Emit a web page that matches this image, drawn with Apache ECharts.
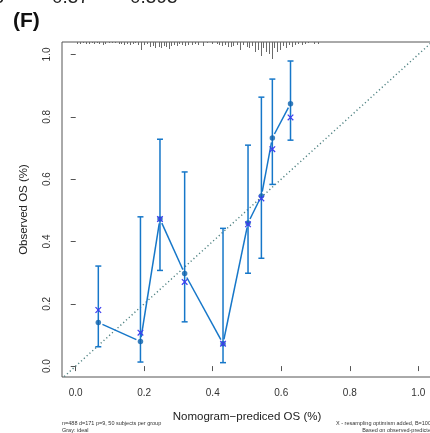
<!DOCTYPE html>
<html>
<head>
<meta charset="utf-8">
<script src="https://cdn.jsdelivr.net/npm/echarts@6/dist/echarts.min.js"></script>
<style>
  html, body { margin: 0; padding: 0; background: #fff; }
  #chart { width: 430px; height: 433px; }
</style>
</head>
<body>
<div id="chart"></div>
<script>
  // calibration groups (9 groups, 50 subjects each)
  const predicted = [0.066, 0.189, 0.246, 0.318, 0.430, 0.503, 0.542, 0.574, 0.627];
  const observed = [0.140, 0.079, 0.472, 0.297, 0.072, 0.459, 0.546, 0.732, 0.842];
  const corrected = [0.180, 0.107, 0.472, 0.270, 0.072, 0.455, 0.538, 0.696, 0.798];
  const ciLower = [0.062, 0.013, 0.307, 0.142, 0.011, 0.298, 0.346, 0.583, 0.725];
  const ciUpper = [0.321, 0.479, 0.728, 0.623, 0.442, 0.709, 0.863, 0.921, 0.979];

  const tickValues = [0, 0.2, 0.4, 0.6, 0.8, 1.0];
  const idealRange = [-0.05, 1.05];

  // distribution of predicted risk (rug at top)
  const rugPred = [0.004, 0.013, 0.021, 0.030, 0.038, 0.048, 0.054, 0.062, 0.069, 0.079,
    0.085, 0.096, 0.106, 0.116, 0.126, 0.133, 0.140, 0.150, 0.159, 0.166,
    0.174, 0.182, 0.191, 0.198, 0.208, 0.218, 0.225, 0.232, 0.242, 0.249,
    0.257, 0.264, 0.271, 0.279, 0.286, 0.296, 0.302, 0.310, 0.320, 0.328,
    0.339, 0.348, 0.358, 0.372, 0.382, 0.397, 0.412, 0.419, 0.428, 0.436,
    0.445, 0.452, 0.460, 0.470, 0.480, 0.489, 0.499, 0.507, 0.514, 0.523,
    0.531, 0.540, 0.548, 0.555, 0.564, 0.572, 0.580, 0.588, 0.596, 0.604,
    0.614, 0.623, 0.630, 0.640, 0.650, 0.660, 0.669, 0.679, 0.696, 0.708];
  const rugCount = [2, 2, 1, 2, 2, 1, 2, 1, 2, 3,
    2, 1, 1, 1, 2, 2, 3, 2, 3, 2,
    1, 3, 8, 3, 2, 5, 4, 6, 5, 6,
    4, 5, 7, 4, 3, 4, 2, 3, 4, 3,
    3, 2, 3, 4, 1, 2, 2, 3, 4, 3,
    5, 5, 4, 3, 8, 3, 5, 6, 4, 10,
    8, 14, 6, 10, 12, 17, 6, 10, 8, 4,
    6, 3, 5, 3, 2, 3, 2, 1, 2, 2];

  const BLUE = '#1677c9';
  const DOT = '#0d62ad';
  const XBLUE = '#3c3cf0';
  const AXIS = '#555';
  const FONT = 'Liberation Sans';

  const chart = echarts.init(document.getElementById('chart'), null, {renderer: 'canvas'});

  const axisCommon = {
    type: 'value',
    axisLine: {show: false},
    splitLine: {show: false},
    axisTick: {show: true, length: 5, lineStyle: {color: AXIS, width: 1}, customValues: tickValues},
    axisLabel: {
      customValues: tickValues,
      color: '#333',
      fontFamily: FONT,
      fontSize: 10,
      formatter: v => v.toFixed(1)
    },
    nameLocation: 'middle',
    nameTextStyle: {color: '#222', fontFamily: FONT, fontSize: 11.5}
  };

  chart.setOption({
    backgroundColor: '#fff',
    animation: false,

    grid: {
      left: 62,
      top: 42,
      width: 370,
      height: 335,
      show: true,
      borderColor: AXIS,
      borderWidth: 1,
      outerBoundsMode: 'none'
    },

    xAxis: Object.assign({}, axisCommon, {
      min: -0.04,
      max: 1.04,
      name: 'Nomogram\u2212prediced OS (%)',
      nameGap: 34,
      axisLabel: Object.assign({}, axisCommon.axisLabel, {margin: 11})
    }),

    yAxis: [
      Object.assign({}, axisCommon, {
        min: -0.035,
        max: 1.04,
        name: 'Observed OS (%)',
        nameGap: 32,
        axisLabel: Object.assign({}, axisCommon.axisLabel, {rotate: 90, margin: 10})
      }),
      {type: 'value', show: false, inverse: true, min: 0, max: 335}
    ],

    graphic: [
      {type: 'text', left: 13, top: 11, style: {text: '(F)', font: 'bold 21px ' + FONT, fill: '#111'}},
      {type: 'text', x: 4, y: 7, style: {text: '5', font: '19px ' + FONT, fill: '#222', align: 'right', verticalAlign: 'bottom'}},
      {type: 'text', x: 52, y: 7, style: {text: '0.57', font: '19px ' + FONT, fill: '#222', verticalAlign: 'bottom'}},
      {type: 'text', x: 130, y: 7, style: {text: '0.595', font: '19px ' + FONT, fill: '#222', verticalAlign: 'bottom'}},
      {type: 'text', x: 62, y: 423, style: {text: 'n=488 d=171 p=9, 50 subjects per group', font: '5.5px ' + FONT, fill: '#333', verticalAlign: 'middle'}},
      {type: 'text', x: 62, y: 430, style: {text: 'Gray: ideal', font: '5.5px ' + FONT, fill: '#333', verticalAlign: 'middle'}},
      {type: 'text', x: 434, y: 423, style: {text: 'X - resampling optimism added, B=1000', font: '5.5px ' + FONT, fill: '#333', align: 'right', verticalAlign: 'middle'}},
      {type: 'text', x: 434, y: 430, style: {text: 'Based on observed-predicted', font: '5.5px ' + FONT, fill: '#333', align: 'right', verticalAlign: 'middle'}}
    ],

    series: [
      // ideal line
      {
        type: 'line',
        data: idealRange.map(v => [v, v]),
        symbol: 'none',
        silent: true,
        clip: true,
        lineStyle: {color: '#4f8282', width: 1.4, type: [1.2, 2.6]},
        z: 1
      },

      // rug of predicted values
      {
        type: 'custom',
        yAxisIndex: 1,
        data: rugPred.map((x, i) => [x, rugCount[i]]),
        encode: {x: 0, y: 1},
        silent: true,
        renderItem(params, api) {
          const top = api.coord([api.value(0), 0]);
          const bot = api.coord([api.value(0), api.value(1)]);
          return {
            type: 'line',
            shape: {x1: Math.round(top[0]) + 0.5, y1: top[1], x2: Math.round(top[0]) + 0.5, y2: bot[1]},
            style: {stroke: '#6a6a6a', lineWidth: 1}
          };
        },
        z: 2
      },

      // error bars
      {
        type: 'custom',
        data: predicted.map((x, i) => [x, ciLower[i], ciUpper[i]]),
        encode: {x: 0, y: [1, 2]},
        silent: true,
        renderItem(params, api) {
          const lo = api.coord([api.value(0), api.value(1)]);
          const hi = api.coord([api.value(0), api.value(2)]);
          const cap = 3;
          const st = {stroke: BLUE, lineWidth: 1.5};
          return {
            type: 'group',
            children: [
              {type: 'line', shape: {x1: lo[0], y1: lo[1], x2: hi[0], y2: hi[1]}, style: st},
              {type: 'line', shape: {x1: lo[0] - cap, y1: lo[1], x2: lo[0] + cap, y2: lo[1]}, style: st},
              {type: 'line', shape: {x1: hi[0] - cap, y1: hi[1], x2: hi[0] + cap, y2: hi[1]}, style: st}
            ]
          };
        },
        z: 3
      },

      // observed line, drawn with gaps round the points (type = "b")
      {
        type: 'custom',
        data: predicted.slice(0, -1).map((x, i) => [x, observed[i], predicted[i + 1], observed[i + 1]]),
        encode: {x: [0, 2], y: [1, 3]},
        silent: true,
        renderItem(params, api) {
          const a = api.coord([api.value(0), api.value(1)]);
          const b = api.coord([api.value(2), api.value(3)]);
          const dx = b[0] - a[0], dy = b[1] - a[1];
          const len = Math.sqrt(dx * dx + dy * dy);
          const gap = 4.5;
          if (len <= gap * 2) return null;
          const ux = dx / len, uy = dy / len;
          return {
            type: 'line',
            shape: {x1: a[0] + ux * gap, y1: a[1] + uy * gap, x2: b[0] - ux * gap, y2: b[1] - uy * gap},
            style: {stroke: BLUE, lineWidth: 1.5}
          };
        },
        z: 4
      },

      // observed points
      {
        type: 'scatter',
        data: predicted.map((x, i) => [x, observed[i]]),
        symbol: 'circle',
        symbolSize: 5.5,
        itemStyle: {color: DOT},
        silent: true,
        z: 5
      },

      // bias-corrected (x marks)
      {
        type: 'custom',
        data: predicted.map((x, i) => [x, corrected[i]]),
        encode: {x: 0, y: 1},
        silent: true,
        renderItem(params, api) {
          const p = api.coord([api.value(0), api.value(1)]);
          const r = 2.8;
          const st = {stroke: XBLUE, lineWidth: 1.2};
          return {
            type: 'group',
            children: [
              {type: 'line', shape: {x1: p[0] - r, y1: p[1] - r, x2: p[0] + r, y2: p[1] + r}, style: st},
              {type: 'line', shape: {x1: p[0] - r, y1: p[1] + r, x2: p[0] + r, y2: p[1] - r}, style: st}
            ]
          };
        },
        z: 6
      }
    ]
  });
</script>
</body>
</html>
